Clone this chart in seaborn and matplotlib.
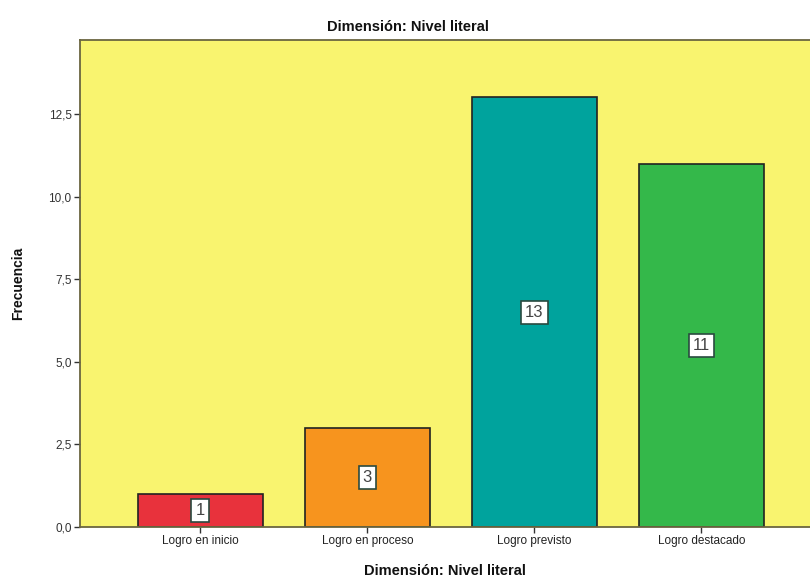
import matplotlib
matplotlib.use("Agg")
import matplotlib.pyplot as plt
import seaborn as sns
import pandas as pd

categories = ["Logro en inicio", "Logro en proceso", "Logro previsto", "Logro destacado"]
frecuencias = [1, 3, 13, 11]
bar_colors = ["#E8323C", "#F7941E", "#00A39D", "#34B84A"]
y_ticks = [0.0, 2.5, 5.0, 7.5, 10.0, 12.5]
y_tick_labels = ["0,0", "2,5", "5,0", "7,5", "10,0", "12,5"]

sns.set_theme(style="white")
plt.rcParams["font.family"] = ["Liberation Sans", "DejaVu Sans"]

df = pd.DataFrame({"cat": categories, "freq": frecuencias})

fig = plt.figure(figsize=(8.1, 5.8), dpi=100)
ax = fig.add_axes([80 / 810, 1 - 527 / 580, 740 / 810, 487 / 580])
ax.set_facecolor("#F9F46F")

sns.barplot(data=df, x="cat", y="freq", hue="cat", palette=bar_colors,
            saturation=1, legend=False, width=0.75, edgecolor="#222222",
            linewidth=1.2, ax=ax, zorder=2)

ax.set_xlim(-0.72, 3.71)
ax.set_ylim(0, 14.74)
ax.set_yticks(y_ticks)
ax.set_yticklabels(y_tick_labels, fontsize=8.5, color="#333333")
ax.set_xticks(range(len(categories)))
ax.set_xticklabels(categories, fontsize=8.5, color="#222222")
ax.tick_params(axis="both", which="both", direction="out", length=4, width=1,
               color="#333333", left=True, bottom=True, pad=2)
for s in ["left", "bottom", "top", "right"]:
    ax.spines[s].set_color("#6b6640")
    ax.spines[s].set_linewidth(1.3)
ax.set_xlabel("")
ax.set_ylabel("")

for i, v in enumerate(frecuencias):
    ax.text(i, v / 2, str(v), ha="center", va="center", fontsize=12, color="#444444",
            bbox=dict(boxstyle="square,pad=0.25", facecolor="white",
                      edgecolor="#2a4a40", linewidth=1.2), zorder=3)

fig.text(408 / 810, 1 - 27 / 580, "Dimensión: Nivel literal", ha="center", va="center",
         fontsize=10.5, fontweight="bold", color="#111111")
fig.text(445 / 810, 1 - 571 / 580, "Dimensión: Nivel literal", ha="center", va="center",
         fontsize=10.5, fontweight="bold", color="#111111")
fig.text(18 / 810, 1 - 283 / 580, "Frecuencia", ha="center", va="center",
         rotation=90, fontsize=10, fontweight="bold", color="#111111")

fig.savefig("out.png", dpi=100, facecolor="white")
